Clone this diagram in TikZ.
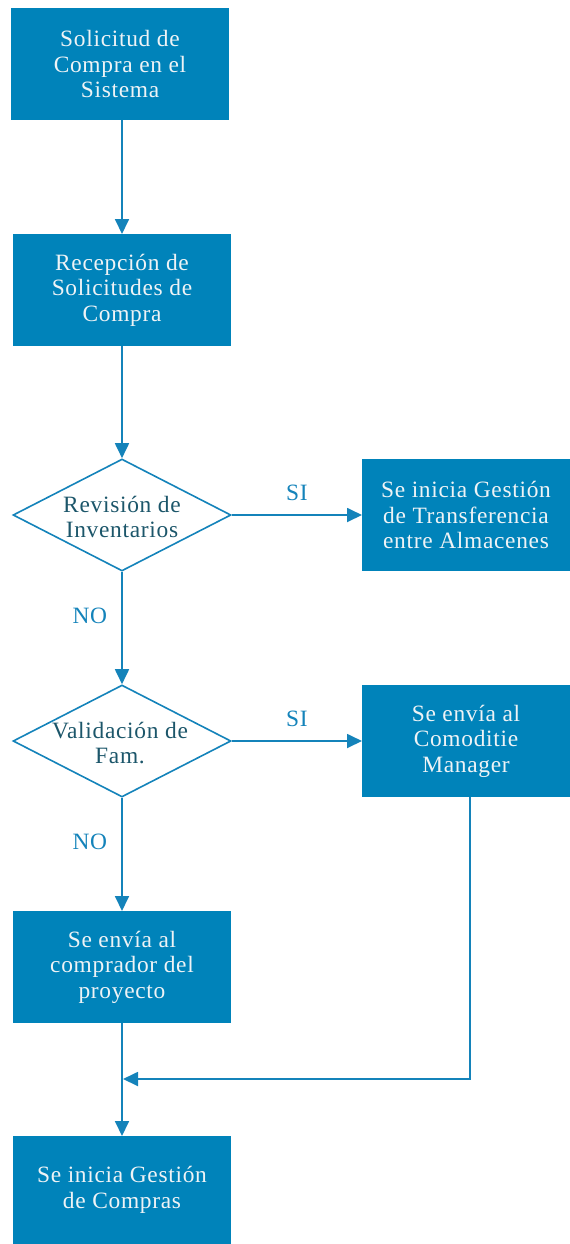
\documentclass[tikz,border=0pt]{standalone}
\usepackage{fontspec}
\setmainfont{Liberation Serif}[LetterSpace=3]
\usetikzlibrary{arrows.meta,shapes.geometric}
\definecolor{boxblue}{RGB}{0,131,186}
\definecolor{lineblue}{RGB}{20,131,186}
\definecolor{darktext}{RGB}{28,86,106}
\definecolor{boxtext}{RGB}{238,243,246}
\begin{document}
\begin{tikzpicture}[x=1bp,y=-1bp,
  txt/.style={font=\fontsize{23.5}{25.5}\selectfont},
  proc/.style={txt, rectangle, fill=boxblue, minimum width=218bp, minimum height=112bp,
    text=boxtext, align=center, inner sep=0pt, outer sep=0pt},
  side/.style={proc, minimum width=208bp},
  decision/.style={diamond, draw=lineblue, line width=1.6bp, minimum width=218bp,
    minimum height=112bp, inner sep=0pt},
  dtext/.style={txt, text=darktext, align=center, inner sep=0pt},
  flow/.style={draw=lineblue, line width=1.8bp, -{Triangle[length=15bp,width=14bp]}},
  lbl/.style={txt, text=lineblue, inner sep=0pt}]
\useasboundingbox (0,0) rectangle (570,1244);

% main column
\node[proc] (s1) at (120,64) {Solicitud de\\Compra en el\\Sistema};
\node[proc] (s2) at (122,290) {Recepción de\\Solicitudes de\\Compra};
\node[decision] (d1) at (122,515) {};
\node[dtext] (d1t) at (122,517) {Revisión de\\Inventarios};
\node[decision] (d2) at (122,741) {};
\node[dtext] (d2t) at (120,743) {Validación de\\Fam.};
\node[proc] (p1) at (122,967) {Se envía al\\comprador del\\proyecto};
\node[proc, minimum height=108bp] (g1) at (122,1190) {Se inicia Gestión\\de Compras};

% right column
\node[side] (t1) at (466,515) {Se inicia Gestión\\de Transferencia\\entre Almacenes};
\node[side] (c1) at (466,741) {Se envía al\\Comoditie\\Manager};

% connectors
\draw[flow] (s1.south -| s2.north) -- (s2.north);
\draw[flow] (s2) -- (d1);
\draw[flow] (d1) -- (t1) node[lbl, midway, above=13bp] {SI};
\draw[flow] (d1) -- (d2) node[lbl, pos=0.39, left=14bp] {NO};
\draw[flow] (d2) -- (c1) node[lbl, midway, above=13bp] {SI};
\draw[flow] (d2) -- (p1) node[lbl, pos=0.39, left=14bp] {NO};
\draw[flow] (p1) -- (g1);
\coordinate (m) at (123,1079);
\draw[flow] ([xshift=4bp]c1.south) |- (m);
\end{tikzpicture}
\end{document}
